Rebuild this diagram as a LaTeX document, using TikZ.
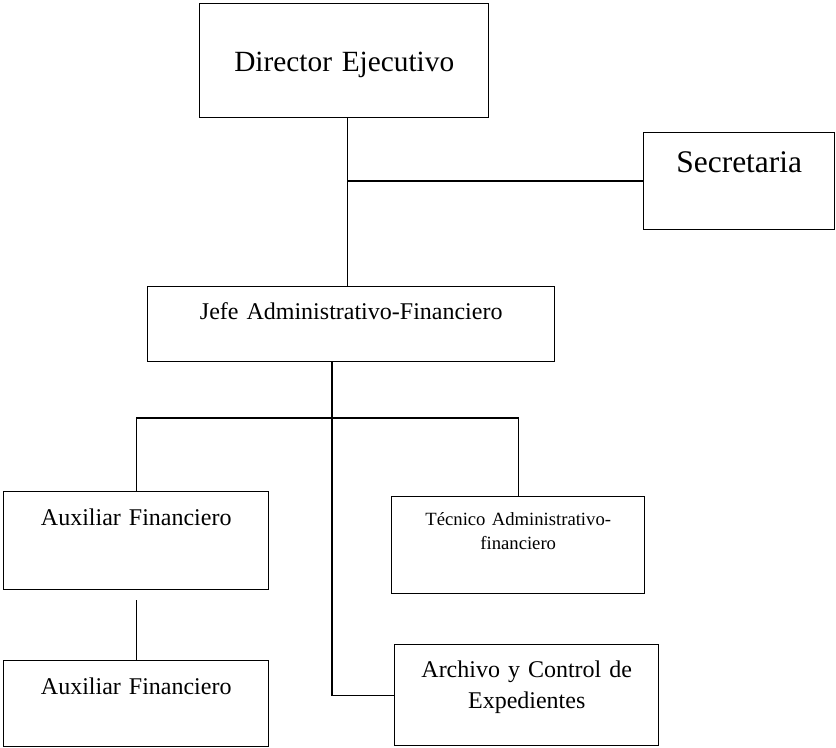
\documentclass[tikz,border=0pt]{standalone}
\usepackage{fontspec}
\setmainfont{Liberation Serif}
\begin{document}
\begin{tikzpicture}[x=0.75pt, y=-0.75pt, line width=1.1pt,
  orgbox/.style={draw, rectangle, anchor=north west, inner sep=0pt, align=center}]
\useasboundingbox (0,0) rectangle (836,748);
\node[orgbox, text width=216.75pt, text height=51pt, text depth=34.5pt, font=\fontsize{22pt}{26pt}\selectfont] (dir) at (199,3) {Director Ejecutivo};
\node[orgbox, text width=143.25pt, text height=30pt, text depth=42.75pt, font=\fontsize{23.6pt}{28pt}\selectfont] (sec) at (643,132) {Secretaria};
\node[orgbox, text width=305.25pt, text height=24.75pt, text depth=31.5pt, font=\fontsize{18pt}{23.25pt}\selectfont] (jefe) at (147,286) {Jefe Administrativo-Financiero};
\node[orgbox, text width=198.75pt, text height=25.5pt, text depth=48pt, font=\fontsize{18pt}{23.25pt}\selectfont] (aux1) at (3,491) {Auxiliar Financiero};
\node[orgbox, text width=189.75pt, text height=21.75pt, text depth=51pt, font=\fontsize{14pt}{18pt}\selectfont] (tec) at (391,496) {Técnico Administrativo-\\financiero};
\node[orgbox, text width=198.75pt, text height=25.5pt, text depth=39pt, font=\fontsize{18pt}{23.25pt}\selectfont] (aux2) at (3,660) {Auxiliar Financiero};
\node[orgbox, text width=198pt, text height=24.75pt, text depth=51pt, font=\fontsize{18pt}{23.25pt}\selectfont] (arch) at (394,644) {Archivo y Control de\\Expedientes};
\coordinate (dirdown) at ([xshift=2.6pt]dir.south);
\coordinate (split) at (331,418);
\draw (dirdown) -- (dirdown |- jefe.north);
\draw (sec.west) -- (sec.west -| dirdown);
\draw ([xshift=-14.6pt]jefe.south) |- (arch.west);
\draw (aux1.north) |- (split) -| (tec.north);
\draw ([yshift=-7.5pt]aux1.south) -- (aux2.north);
\end{tikzpicture}
\end{document}
